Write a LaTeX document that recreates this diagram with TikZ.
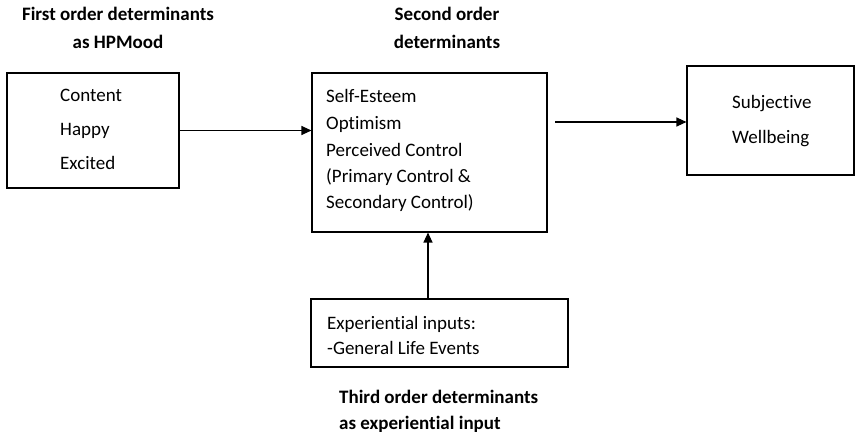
\documentclass[tikz,border=0pt]{standalone}
\usepackage{fontspec}
\setmainfont[Ligatures=NoCommon]{Carlito}
\usetikzlibrary{arrows.meta}
\tikzset{
  box/.style={draw=black, line width=1.1pt, inner sep=0pt},
  arr/.style={draw=black, line width=1.1pt, -{Triangle[length=10pt,width=9pt]}},
  txt/.style={anchor=base west, inner sep=0pt, font=\fontsize{19}{22}\selectfont},
  ttl/.style={anchor=base, inner sep=0pt, font=\fontsize{19}{22}\selectfont\bfseries},
  ttlw/.style={anchor=base west, inner sep=0pt, font=\fontsize{19}{22}\selectfont\bfseries}
}
\begin{document}
\begin{tikzpicture}[x=1pt,y=-1pt]
\useasboundingbox (0,0) rectangle (856,435);
% boxes
\node[box, minimum width=172pt, minimum height=115pt] (b1) at (93,130.5) {};
\node[box, minimum width=235pt, minimum height=159pt] (b2) at (429.5,152.5) {};
\node[box, minimum width=167pt, minimum height=109pt] (b3) at (770.5,120.5) {};
\node[box, minimum width=257pt, minimum height=68pt] (b4) at (439.5,333) {};
% titles
\node[ttl] (t1a) at (118,21) {First order determinants};
\node[ttl] (t1b) at (118,49) {as HPMood};
\node[ttl] (t2a) at (447,21) {Second order};
\node[ttl] (t2b) at (447,49) {determinants};
\node[ttlw] (t3a) at (339,403) {Third order determinants};
\node[ttlw] (t3b) at (339,429) {as experiential input};
% box 1 text
\node[txt] (l11) at (60,102) {Content};
\node[txt] (l12) at (60,136) {Happy};
\node[txt] (l13) at (60,170) {Excited};
% box 2 text
\node[txt] (l21) at (326,103) {Self-Esteem};
\node[txt] (l22) at (326,130) {Optimism};
\node[txt] (l23) at (326,157) {Perceived Control};
\node[txt] (l24) at (326,183) {(Primary Control \&};
\node[txt] (l25) at (326,209) {Secondary Control)};
% box 3 text
\node[txt] (l31) at (732,109) {Subjective};
\node[txt] (l32) at (732,144) {Wellbeing};
% box 4 text
\node[txt] (l41) at (327,330) {Experiential inputs:};
\node[txt] (l42) at (327,354) {-General Life Events};
% connectors
\draw[arr] (b1.east) -- (b2.west |- b1.east);
\coordinate (s2) at (555,122);
\draw[arr] (s2) -- (b3.west |- s2);
\coordinate (a3) at (428,0);
\draw[arr] (a3 |- b4.north) -- (a3 |- b2.south);
\end{tikzpicture}
\end{document}
